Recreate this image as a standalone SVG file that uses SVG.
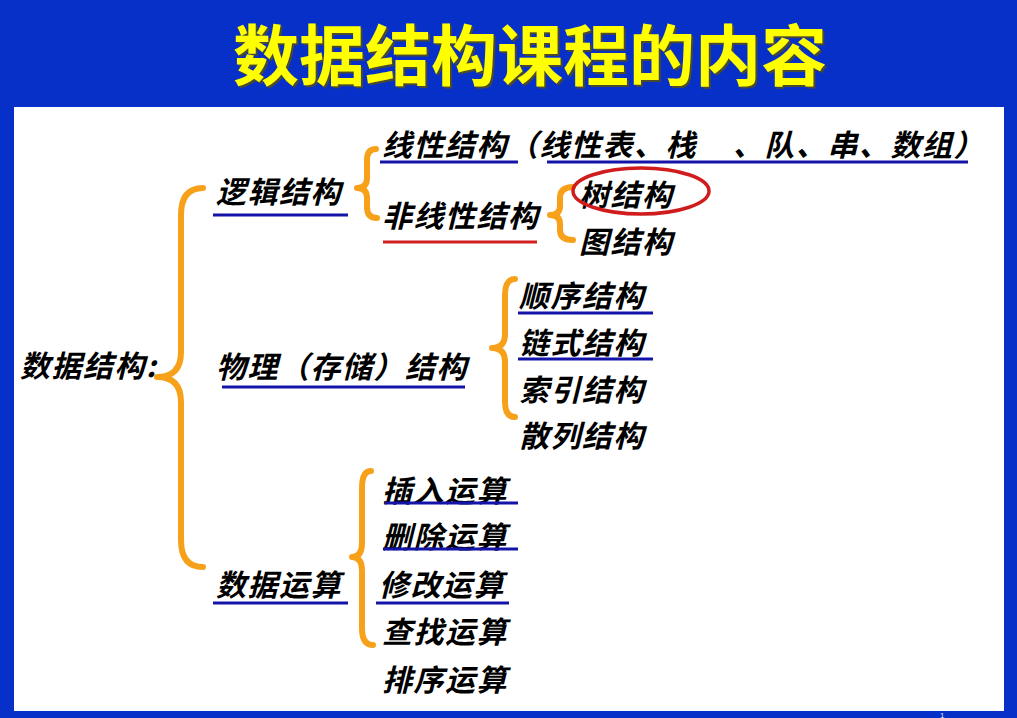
<svg xmlns="http://www.w3.org/2000/svg" width="1017" height="718" viewBox="0 0 1017 718">
<style>
.t{font-family:"Noto Sans CJK SC","Noto Sans",sans-serif;font-size:30px;font-weight:bold;font-style:italic;fill:#000;letter-spacing:1.5px}
.title{font-family:"Noto Sans CJK SC","Noto Sans",sans-serif;font-size:66px;font-weight:bold}
.ul{stroke:#1414A8;stroke-width:3;fill:none}
.ulr{stroke:#D02020;stroke-width:3;fill:none}
.br{stroke:#F7A11A;stroke-width:6;fill:none;stroke-linecap:round;stroke-linejoin:round}
</style>
<rect x="0" y="0" width="1017" height="718" fill="#0630C8"/>
<rect x="14" y="107" width="990" height="604" fill="#FFFFFF"/>
<g id="title">
<text class="title" x="235" y="82" fill="#4A4A30">数据结构课程的内容</text>
<text class="title" x="233" y="80" fill="#FFFF00">数据结构课程的内容</text>
</g>
<text x="940" y="718" font-family="Liberation Sans, sans-serif" font-size="8" fill="#DDE6FF">1</text>
<g id="connectors">
<path class="br" d="M203,188 Q181,188 181,215 L181,352 Q181,377 157,377 Q181,377 181,402 L181,540 Q181,567 203,567"/>
<path class="br" d="M376,149 Q367,149 367,160 L367,178 Q367,188 357,188 Q367,188 367,198 L367,207 Q367,218 377,218"/>
<path class="br" d="M573,187 Q560,187 560,198 L560,206 Q560,215 550,215 Q560,215 560,224 L560,230 Q560,240 573,240"/>
<path class="br" d="M515,279 Q505,279 505,295 L505,334 Q505,348 492,348 Q505,348 505,362 L505,402 Q505,417 515,417"/>
<path class="br" d="M371,471 Q362,471 362,488 L362,543 Q362,557 352,557 Q362,557 362,571 L362,628 Q362,645 373,645"/>
</g>
<g id="n-root"><text class="t" x="20" y="377">数据结构:</text></g>
<g id="n-logic"><text class="t" x="216" y="203">逻辑结构</text><line class="ul" x1="213" y1="215" x2="348" y2="215"/></g>
<g id="n-physical"><text class="t" x="216" y="378">物理（存储）结构</text><line class="ul" x1="222" y1="387" x2="465" y2="387"/></g>
<g id="n-ops"><text class="t" x="216" y="596">数据运算</text><line class="ul" x1="213" y1="603" x2="348" y2="603"/></g>
<g id="n-linear"><text class="t" x="382" y="156">线性结构（线性表、栈<tspan x="733">、队、串、数组）</tspan></text><line class="ul" x1="380" y1="162" x2="518" y2="162"/><line class="ul" x1="547" y1="162" x2="968" y2="162"/></g>
<g id="n-nonlinear"><text class="t" x="382" y="227">非线性结构</text><line class="ulr" x1="383" y1="242" x2="537" y2="242"/></g>
<g id="n-tree"><text class="t" x="579" y="206">树结构</text><ellipse cx="641" cy="191" rx="68" ry="23" fill="none" stroke="#D01C1C" stroke-width="3.5"/></g>
<g id="n-graph"><text class="t" x="579" y="253">图结构</text></g>
<g id="n-seq"><text class="t" x="519" y="307">顺序结构</text><line class="ul" x1="518" y1="313" x2="653" y2="313"/></g>
<g id="n-link"><text class="t" x="519" y="354">链式结构</text><line class="ul" x1="518" y1="359" x2="653" y2="359"/></g>
<g id="n-index"><text class="t" x="519" y="401">索引结构</text></g>
<g id="n-hash"><text class="t" x="519" y="447">散列结构</text></g>
<g id="n-insert"><text class="t" x="382" y="502">插入运算</text><line class="ul" x1="385" y1="503" x2="518" y2="503"/></g>
<g id="n-delete"><text class="t" x="382" y="548">删除运算</text><line class="ul" x1="383" y1="549" x2="518" y2="549"/></g>
<g id="n-modify"><text class="t" x="379" y="596">修改运算</text><line class="ul" x1="376" y1="603" x2="509" y2="603"/></g>
<g id="n-find"><text class="t" x="382" y="643">查找运算</text></g>
<g id="n-sort"><text class="t" x="382" y="691">排序运算</text></g>
</svg>
